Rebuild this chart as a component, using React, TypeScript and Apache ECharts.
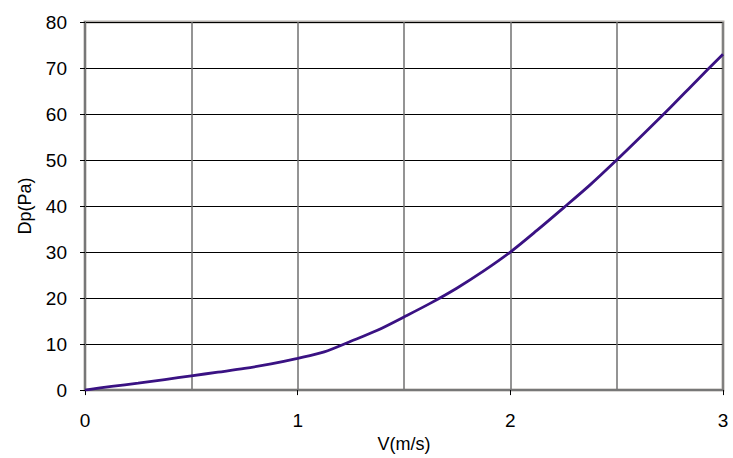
import React, { useEffect, useRef } from "react";
import * as echarts from "echarts";

const velocity = [0, 0.125, 0.25, 0.375, 0.5, 0.625, 0.75, 0.875, 1, 1.125, 1.25, 1.375, 1.5, 1.625, 1.75, 1.875, 2, 2.125, 2.25, 2.375, 2.5, 2.625, 2.75, 2.875, 3];
const pressure = [0, 0.8, 1.5, 2.3, 3.1, 3.9, 4.7, 5.7, 6.9, 8.3, 10.6, 13, 15.9, 18.9, 22.2, 25.9, 30, 34.7, 39.6, 44.6, 50, 55.6, 61.3, 67.2, 73];

export default function App() {
  const ref = useRef<HTMLDivElement>(null);
  useEffect(() => {
    const chart = echarts.init(ref.current!, undefined, { renderer: "svg" });
    const font = "'Liberation Sans', Arial, sans-serif";
    chart.setOption({
      animation: false,
      backgroundColor: "#ffffff",
      grid: {
        left: 85,
        top: 22,
        right: 10,
        bottom: 66,
        show: true,
        borderColor: "#b4b0ac",
        borderWidth: 3,
      },
      xAxis: {
        type: "value",
        min: 0,
        max: 3,
        interval: 1,
        name: "V(m/s)",
        nameLocation: "middle",
        nameGap: 37,
        nameTextStyle: { fontFamily: font, fontSize: 18, color: "#000" },
        axisLine: { show: true, lineStyle: { color: "#777777", width: 2 } },
        axisTick: { show: true, length: 5, lineStyle: { color: "#000", width: 1 } },
        axisLabel: { margin: 21, fontFamily: font, fontSize: 19, color: "#000" },
        splitLine: { show: true, lineStyle: { color: "#707070", width: 1.5 } },
        minorTick: { show: false, splitNumber: 2 },
        minorSplitLine: { show: true, lineStyle: { color: "#707070", width: 1.5 } },
      },
      yAxis: {
        type: "value",
        min: 0,
        max: 80,
        interval: 10,
        name: "Dp(Pa)",
        nameLocation: "middle",
        nameGap: 51,
        nameRotate: 90,
        nameTextStyle: { fontFamily: font, fontSize: 18, color: "#000" },
        axisLine: { show: true, lineStyle: { color: "#777777", width: 2 } },
        axisTick: { show: true, length: 5, lineStyle: { color: "#000", width: 1 } },
        axisLabel: { margin: 18, fontFamily: font, fontSize: 19, color: "#000" },
        splitLine: { show: true, lineStyle: { color: "#000000", width: 1 } },
      },
      series: [
        {
          type: "line",
          data: velocity.map((v, i) => [v, pressure[i]]),
          smooth: 0.3,
          showSymbol: false,
          lineStyle: { color: "#3a1283", width: 2.8 },
          z: 5,
        },
      ],
    });
    return () => chart.dispose();
  }, []);
  return <div ref={ref} style={{ position: "fixed", left: 0, top: 0, width: 733, height: 458 }} />;
}
